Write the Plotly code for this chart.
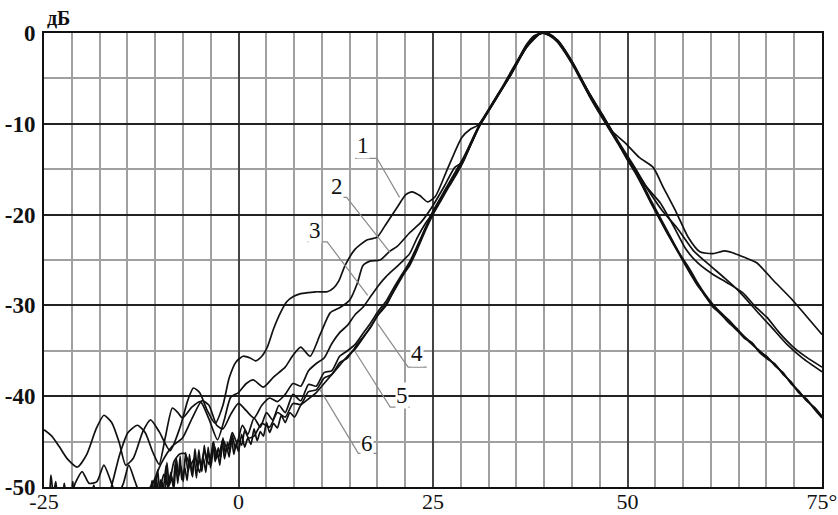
import plotly.graph_objects as go

# ---------------- data ----------------
X_TICKS = [-25, 0, 25, 50, 75]
X_TICK_TEXT = ["-25", "0", "25", "50", "75°"]
Y_TICKS = [-50, -40, -30, -20, -10, 0]
Y_TICK_TEXT = ["-50", "-40", "-30", "-20", "-10", "0"]

CURVE_1 = [(-25,-43.7),(-24,-44.4),(-23,-45.6),(-22,-46.9),(-20.7,-47.8),(-19.5,-46.4),(-18.3,-43.6),(-17.3,-42.1),
           (-16.3,-42.9),(-15.3,-45.2),(-14.5,-47.6),(-13.5,-46.8),(-12.3,-43.9),(-11.3,-42.6),(-10.2,-43.9),(-8.8,-46),
           (-7.5,-43.4),(-6.5,-40.4),(-5.8,-39.1),(-5,-39.6),(-4,-41.6),(-3,-43),(-2,-41),(-1.2,-38),(-0.3,-36.2),
           (0.6,-35.6),(1.5,-35.8),(2.2,-36.1),(3,-35.6),(3.7,-34.6),(4.5,-32.6),(5.4,-30.8),(6.2,-29.6),(7.1,-29),
           (8,-28.7),(8.9,-28.6),(10,-28.5),(11.4,-28.5),(12.2,-28.1),(12.9,-27.3),(13.7,-25.6),(15,-23.8),(16.5,-22.8),
           (17.8,-22.5),(19,-21),(20.4,-19.2),(21.5,-17.8),(22.3,-17.5),(23.3,-17.9),(24.3,-18.6),(25.3,-18),(26.8,-15.1),
           (28.7,-11.5),(29.8,-10.6),(30.7,-10.2),(31.6,-9.3),(33,-7.3),(35,-4.6),(37,-1.6),(38.5,-0.2),(39.5,0),
           (41,-0.8),(42.5,-2.8),(44,-5),(46,-8),(48,-10.8),(49.7,-12.1),(51.5,-13.7),(53.3,-14.8),(54.6,-17),
           (56.3,-19.8),(57.8,-22.5),(59.3,-24.1),(61,-24.3),(62.5,-24),(63.5,-24.2),(65,-24.7),(66.6,-25.3),
           (68.7,-27.2),(71.2,-29.4),(73,-31.2),(75,-33.2)]

CURVE_2 = [(-25,-51.5),(-17,-51.5),(-16.2,-49.5),(-15.3,-46.5),(-14.2,-44),(-13,-43.2),(-12,-44),(-11,-46.2),
           (-10.2,-47.5),(-9.4,-44.5),(-8.5,-41.3),(-7.8,-41.8),(-7.2,-42.4),(-6,-41.2),(-4.9,-40.6),(-3.8,-42.5),
           (-2.7,-44.8),(-1.8,-42.5),(-1,-40.1),(0,-39.6),(1,-38.6),(1.9,-38.2),(3.2,-39),(4.5,-37.9),(6,-36.8),
           (7,-35.5),(8,-34.6),(9.2,-35.6),(10.5,-33.2),(11.8,-30.8),(13.1,-30.2),(14.3,-29.4),(15.3,-27.5),(16,-25.6),
           (17,-25.1),(18.2,-25),(19.5,-24),(20.4,-23.5),(22,-22),(23.5,-20.8),(25,-19),(26.5,-16.8),(27.8,-14.8),
           (28.7,-14.3),(29.5,-13),(31,-10.2),(33,-7.3),(35,-4.5),(37,-1.5),(39,0),(41,-0.8),(43,-3.3),(45,-6.5),
           (47,-9.3),(49,-12.2),(51,-14.9),(52.5,-17),(54.2,-18.7),(56,-21.4),(57.5,-23.8),(59,-25.3),(61,-26.6),
           (62.8,-27.5),(64.8,-28.6),(66.5,-30.2),(67.9,-31.3),(69.5,-33),(71.2,-34.5),(73,-35.7),(75,-36.8)]

CURVE_3 = [(-25,-51.5),(-21.8,-51.5),(-21,-49.6),(-20.1,-48.3),(-19.2,-49.6),(-18.2,-49.4),(-17.3,-47.6),(-16.4,-49.4),
           (-15.6,-51),(-14.8,-49.6),(-14.1,-47.6),(-13.3,-49.4),(-12.5,-51),(-11.5,-50.5),(-10,-47.5),(-8.5,-45.5),
           (-7.2,-44.6),(-6,-42.5),(-4.7,-40.5),(-3.8,-41),(-2.8,-43.2),(-2,-43.6),(-1,-42),(0,-40.8),(1,-41.6),
           (2,-42.4),(3,-41),(4,-40.2),(5,-40.6),(6,-39.8),(7,-38.6),(8,-38.9),(9,-37.2),(10,-36.4),(11,-35.8),
           (12,-34.2),(13,-33),(14,-32.2),(15,-31),(16,-30.2),(17,-29),(18,-27.8),(19,-26.8),(20,-26),(21,-25.2),
           (22,-24.3),(23,-22.5),(24,-21),(25,-19.8),(26,-18.3),(27,-16.8),(28.5,-14.7),(30,-12),(31,-10.2),
           (33,-7.4),(35,-4.6),(37,-1.6),(39,0),(41,-0.8),(43,-3.4),(45,-6.6),(47,-9.4),(49,-12.3),(51,-15),
           (52.5,-17.1),(54.5,-19.6),(56.4,-21.5),(58.5,-24),(60.6,-25.6),(62.5,-27),(64.4,-28.5),(67,-31),
           (68.5,-32.4),(70.5,-34.3),(72.5,-35.8),(75,-37.3)]

CURVE_4 = [(-25,-51),(-13,-51),(-11.5,-50.2),(-10.8,-49.3),(-10.2,-50.5),(-9.6,-48.6),(-9,-50),(-8.3,-47.2),
           (-7.6,-46.4),(-6.9,-46.3),(-6.2,-47.6),(-5.6,-46.8),(-5,-48.4),(-4.4,-46),(-3.8,-47.5),(-3.2,-45.3),
           (-2.6,-46.8),(-2,-44.8),(-1.4,-45.9),(-0.8,-44),(-0.2,-45.1),(0.5,-43.2),(1.2,-44.2),(2,-42.4),
           (2.8,-43.4),(3.6,-41.8),(4.4,-42.6),(5.2,-41),(6,-41.8),(7,-39.8),(8,-40.5),(9,-38.7),(10,-38.9),
           (11,-37.4),(12,-37.2),(13,-35.6),(14,-35),(15,-34.3),(16,-33.1),(17,-31.9),(18,-30.6),(19,-29.5),
           (20,-28),(21,-26.6),(22,-25.2),(23,-23.4),(24,-21.5),(25,-19.6),(26,-18.1),(27,-16.6),(28,-15.1),
           (29,-13.6),(30,-11.8),(31,-10),(32,-8.6),(33,-7.2),(34,-5.8),(35,-4.3),(36,-2.8),(37,-1.3),(38,-0.3),
           (39,0),(40,-0.3),(41,-1),(42,-2.2),(43,-3.6),(44,-5.2),(45,-6.8),(46,-8.3),(47,-9.7),(48,-11.1),
           (49,-12.5),(50,-14),(51,-15.4),(52,-17),(53,-18.7),(54,-20.3),(55,-21.9),(56,-23.4),(57,-24.9),
           (58,-26.4),(59,-27.8),(60,-28.9),(61,-30.2),(62,-30.9),(63,-31.9),(64,-32.6),(65,-33.6),(66,-34.1),
           (67,-35.2),(68,-35.9),(69,-36.5),(70,-37.6),(71,-38.4),(72,-39.6),(73,-40.3),(74,-41.4),(75,-42.4)]

CURVE_5 = [(-25,-51),(-19,-51),(-18.6,-49.8),(-18.2,-51),(-12,-51),(-11.4,-50.8),(-11.1,-49.3),(-10.8,-51),
           (-10.4,-48.1),(-10.1,-50.6),(-9.8,-49.5),(-9.5,-50.9),(-9.2,-47.3),(-8.9,-49.8),(-8.6,-48.9),(-8.3,-50.2),
           (-8,-46.8),(-7.7,-48.8),(-7.4,-47.7),(-7.1,-49.4),(-6.8,-46.2),(-6.5,-48.3),(-6.2,-47.3),(-5.9,-48.9),
           (-5.6,-45.8),(-5.3,-47.9),(-5,-46.9),(-4.7,-48.3),(-4.4,-45.4),(-4.1,-47.3),(-3.8,-46.3),(-3.5,-47.6),
           (-3.2,-45),(-2.9,-46.9),(-2.6,-45.7),(-2.3,-46.8),(-2,-44.6),(-1.7,-46.3),(-1.4,-45.1),(-1.1,-46.1),
           (-0.8,-44.3),(-0.4,-45.8),(0,-44.8),(0.4,-45.4),(0.8,-43.8),(1.3,-44.6),(2,-44.4),(3,-43),(4,-43.4),
           (5,-41.8),(6,-42.3),(7,-40.8),(8,-40.9),(9,-39.5),(10,-39.3),(11,-38),(12,-37.6),(13,-36.3),(14,-35.8),
           (15,-34.6),(16,-33.5),(17,-32.4),(18,-30.9),(19,-29.8),(20,-28.4),(21,-26.9),(22,-25.4),(23,-23.6),
           (24,-21.6),(25,-19.8),(26,-18.3),(27,-16.8),(28,-15.4),(29,-13.8),(30,-11.9),(31,-10.1),(32,-8.7),
           (33,-7.3),(34,-5.9),(35,-4.4),(36,-2.9),(37,-1.4),(38,-0.4),(39,0),(40,-0.2),(41,-0.9),(42,-2.1),
           (43,-3.5),(44,-5.1),(45,-6.7),(46,-8.2),(47,-9.6),(48,-11),(49,-12.4),(50,-13.9),(51,-15.3),(52,-16.9),
           (53,-18.6),(54,-20.2),(55,-21.8),(56,-23.3),(57,-24.7),(58,-26),(59,-27.5),(60,-28.8),(61,-29.9),
           (62,-30.8),(63,-31.6),(64,-32.5),(65,-33.4),(66,-34.2),(67,-35.1),(68,-35.7),(69,-36.7),(70,-37.4),
           (71,-38.6),(72,-39.4),(73,-40.5),(74,-41.2),(75,-42.2)]

CURVE_6 = [(-25,-51),(-24.4,-51),(-24.1,-48.7),(-23.8,-51),(-23.5,-49.4),(-23.2,-51),(-22.6,-51),(-22.4,-49.6),
           (-22.1,-51),(-21.5,-51),(-21.3,-49.4),(-21,-51),(-12,-51),(-11,-50.6),(-10.6,-48.8),(-10.3,-50.7),
           (-10,-49.2),(-9.7,-50.4),(-9.3,-47.6),(-9.1,-50.2),(-8.7,-48.4),(-8.4,-49.9),(-8.1,-47.2),(-7.8,-49.6),
           (-7.5,-46.6),(-7.3,-49.2),(-6.9,-47.9),(-6.6,-49.3),(-6.3,-46.4),(-6,-48.7),(-5.7,-46.9),(-5.4,-49),
           (-5.1,-45.9),(-4.8,-48.1),(-4.5,-46.8),(-4.2,-48.4),(-3.9,-45.6),(-3.6,-47.9),(-3.3,-45.1),(-3,-47.2),
           (-2.7,-46.2),(-2.4,-47.6),(-2.1,-44.9),(-1.8,-46.9),(-1.5,-45.6),(-1.2,-46.7),(-0.9,-44.5),(-0.6,-46.4),
           (-0.3,-45.2),(0,-46.1),(0.4,-44.2),(0.8,-45.6),(1.2,-44.6),(1.6,-45.3),(2,-43.6),(2.4,-44.9),(2.8,-43.9),
           (3.2,-44.4),(3.6,-42.9),(4,-44),(4.5,-43),(5,-43.5),(5.5,-42.1),(6,-42.9),(6.6,-41.8),(7.2,-42.3),
           (8,-41),(9,-40.3),(10,-39.6),(11,-38.6),(12,-37.6),(13,-36.6),(14,-35.6),(15,-34.8),(16,-33.6),
           (17,-32.3),(18,-31),(19,-30),(20,-28.3),(21,-26.8),(22,-25.6),(23,-23.8),(24,-21.8),(25,-20),(26,-18.5),
           (27,-17),(28,-15.6),(29,-14),(30,-12),(31,-10.2),(32,-8.8),(33,-7.4),(34,-6),(35,-4.6),(36,-3),
           (37,-1.6),(38,-0.5),(39,0),(40,-0.1),(41,-0.8),(42,-2),(43,-3.4),(44,-5),(45,-6.6),(46,-8.1),(47,-9.4),
           (48,-10.8),(49,-12.3),(50,-13.7),(51,-15),(52,-16.7),(53,-18.4),(54,-20),(55,-21.6),(56,-23.2),
           (57,-24.8),(58,-26.2),(59,-27.6),(60,-29),(61,-30.1),(62,-31),(63,-31.8),(64,-32.7),(65,-33.5),
           (66,-34.3),(67,-35),(68,-35.8),(69,-36.6),(70,-37.5),(71,-38.5),(72,-39.5),(73,-40.4),(74,-41.3),
           (75,-42.3)]

CURVES = [CURVE_1, CURVE_2, CURVE_3, CURVE_4, CURVE_5, CURVE_6]

# curve labels
LABEL_NAMES = ["1", "2", "3", "4", "5", "6"]
LABEL_TEXT_POS = [(16.0, -12.4), (12.7, -16.9), (9.8, -21.8), (22.9, -35.3), (21.0, -39.9), (16.5, -45.2)]
LABEL_UNDERLINE = [(15.0, 17.8, -13.8), (11.8, 13.9, -18.1), (8.9, 11.4, -23.0),
                   (21.8, 24.2, -36.8), (19.5, 22.0, -41.2), (15.4, 17.8, -46.3)]
LABEL_TARGET = [(20.7, -18.1), (19.5, -24.2), (16.6, -28.9), (17.8, -31.9), (15.0, -35.1), (10.5, -39.3)]
LABEL_FROM_RIGHT = [True, True, True, False, False, False]

# ---------------- figure ----------------
fig = go.Figure()

for pts in CURVES:
    fig.add_trace(go.Scatter(
        x=[p[0] for p in pts], y=[p[1] for p in pts], mode="lines",
        line=dict(color="#111111", width=1.7, shape="spline", smoothing=0.6),
        hoverinfo="skip", showlegend=False))

annotations = []
for name, (x, y) in zip(LABEL_NAMES, LABEL_TEXT_POS):
    annotations.append(dict(x=x, y=y, xref="x", yref="y", text=name, showarrow=False,
                            font=dict(family="Liberation Serif", size=23, color="#111"),
                            bgcolor="white", borderpad=0))

for (ux0, ux1, uy), (tx, ty), right in zip(LABEL_UNDERLINE, LABEL_TARGET, LABEL_FROM_RIGHT):
    if right:
        xs, ys = [ux0, ux1, tx], [uy, uy, ty]
    else:
        xs, ys = [ux1, ux0, tx], [uy, uy, ty]
    fig.add_trace(go.Scatter(x=xs, y=ys, mode="lines",
                             line=dict(color="#8a8a8a", width=1.2),
                             hoverinfo="skip", showlegend=False))

annotations.append(dict(x=0.0, y=1.0, xref="paper", yref="paper", text="дБ", showarrow=False,
                        xanchor="left", yanchor="bottom", yshift=2, xshift=1,
                        font=dict(family="Liberation Serif", size=20, color="#111", weight="bold")))

fig.update_layout(
    width=838, height=515,
    margin=dict(l=44, r=16, t=33, b=28, autoexpand=False),
    paper_bgcolor="white", plot_bgcolor="white",
    annotations=annotations,
    xaxis=dict(range=[-25, 75], tickvals=X_TICKS, ticktext=X_TICK_TEXT, automargin=False,
               showgrid=True, gridcolor="#444444", gridwidth=2.2,
               minor=dict(dtick=25/7, tick0=-25, showgrid=True, gridcolor="#a0a0a0", gridwidth=1.6),
               showline=True, linecolor="#111", linewidth=2, mirror=True,
               ticks="", zeroline=False, ticklabelstandoff=-6, ticklabeloverflow="allow",
               tickfont=dict(family="Liberation Serif", size=22, color="#111")),
    yaxis=dict(range=[-50, 0], tickvals=Y_TICKS, ticktext=Y_TICK_TEXT, automargin=False,
               showgrid=True, gridcolor="#222222", gridwidth=1.8,
               minor=dict(dtick=5, tick0=0, showgrid=True, gridcolor="#a0a0a0", gridwidth=1.6),
               showline=True, linecolor="#111", linewidth=2, mirror=True,
               ticks="", zeroline=False, ticklabelstandoff=2, ticklabeloverflow="allow",
               tickfont=dict(family="Liberation Serif", size=23, color="#111", weight="bold")),
)

fig.write_html("out.html", config={"displayModeBar": False},
               post_script="document.body.style.margin='0';document.body.style.overflow='hidden';")
